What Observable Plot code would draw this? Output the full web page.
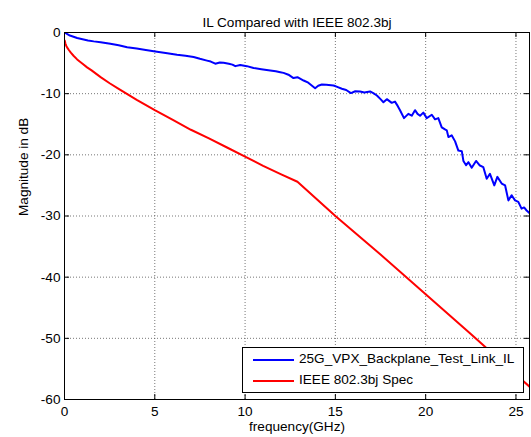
<!DOCTYPE html>
<html>
<head>
<meta charset="utf-8">
<script src="https://cdn.jsdelivr.net/npm/d3@7"></script>
<script src="https://cdn.jsdelivr.net/npm/@observablehq/plot@0.6"></script>
<style>
  body { margin: 0; background: #fff; }
  #wrap { position: relative; width: 531px; height: 437px; font-family: "Liberation Sans", Arial, sans-serif; }
  #legend { position: absolute; left: 242px; top: 347px; width: 282px; height: 46px; background: #fff; border: 1px solid #000; box-sizing: border-box; }
  .row { position: absolute; left: 0; height: 16px; }
  .swatch { position: absolute; left: 10px; width: 41px; height: 2px; }
  .lbl { position: absolute; left: 56px; top: -8px; font-size: 13.6px; white-space: nowrap; line-height: 16px; color: #000; }
</style>
</head>
<body>
<div id="wrap"></div>
<script>
const titleText = "IL Compared with IEEE 802.3bj";
const xLabel = "frequency(GHz)";
const yLabel = "Magnitude in dB";
const seriesNames = ["25G_VPX_Backplane_Test_Link_IL", "IEEE 802.3bj Spec"];
const seriesColors = ["#0000ff", "#ff0000"];
const xTicks = [0, 5, 10, 15, 20, 25];
const yTicks = [0, -10, -20, -30, -40, -50, -60];

const blueFreq = [0.0,0.3,0.7,1.0,1.3,1.62,2.0,2.54,3.0,3.47,4.0,4.5,5.03,5.6,6.23,6.7,7.15,7.5,7.89,8.1,8.35,8.6,8.81,9.1,9.3,9.46,9.73,10.1,10.47,10.9,11.39,11.7,11.95,12.13,12.4,12.68,12.9,13.24,13.5,13.88,14.05,14.25,14.5,14.9,15.1,15.36,15.6,15.86,16.1,16.37,16.6,16.92,17.1,17.3,17.5,17.66,17.85,18.12,18.3,18.45,18.58,18.8,19.04,19.23,19.41,19.55,19.69,19.87,20.06,20.34,20.52,20.7,20.89,21.07,21.17,21.26,21.44,21.63,21.81,22.0,22.09,22.24,22.37,22.55,22.79,22.98,23.19,23.38,23.56,23.8,23.97,24.21,24.4,24.58,24.76,24.95,25.13,25.31,25.45,25.59,25.77];
const blueDb = [0.0,-0.5,-0.9,-1.1,-1.3,-1.45,-1.6,-1.85,-2.1,-2.4,-2.6,-2.85,-3.1,-3.35,-3.65,-3.8,-4.0,-4.3,-4.6,-4.75,-5.1,-4.9,-4.95,-5.1,-5.25,-5.5,-5.3,-5.5,-5.8,-6.0,-6.2,-6.35,-6.5,-6.6,-6.9,-7.45,-7.3,-7.85,-8.2,-9.1,-8.7,-8.5,-8.55,-8.66,-8.9,-9.2,-9.4,-9.9,-9.6,-9.64,-9.8,-9.64,-9.9,-10.3,-10.9,-11.4,-10.9,-11.5,-11.3,-12.0,-12.7,-14.0,-13.3,-13.6,-12.7,-13.3,-13.6,-13.1,-14.0,-13.45,-14.2,-14.0,-15.5,-15.85,-16.0,-17.1,-16.8,-17.8,-19.3,-19.4,-21.0,-21.7,-21.2,-22.1,-21.0,-21.7,-22.0,-23.9,-23.1,-25.0,-23.6,-24.7,-25.0,-27.45,-26.6,-27.45,-27.7,-28.8,-28.6,-29.1,-29.6];

const redFreq = [0.01,0.05,0.1,0.18,0.25,0.35,0.5,0.7,1,1.25,1.5,2,2.5,3,3.5,4,5,6,7,8,9,10,11,12,12.9,15,17.5,20,22.5,25,25.75];
const redDb = [-1.3,-1.8,-2.2,-2.6,-2.9,-3.3,-3.8,-4.4,-5.1,-5.7,-6.2,-7.3,-8.3,-9.2,-10.1,-11.0,-12.7,-14.3,-15.9,-17.3,-18.8,-20.3,-21.8,-23.2,-24.4,-30.0,-36.3,-42.8,-49.3,-55.9,-57.9];

const blue = blueFreq.map((f, i) => ({f, db: blueDb[i]}));
const red = redFreq.map((f, i) => ({f, db: redDb[i]}));

const W = 531, H = 437, mL = 64, mT = 32, mR = 2, mB = 38;
const fw = W - mL - mR, fh = H - mT - mB;

const chart = Plot.plot({
  width: W, height: H,
  marginLeft: mL, marginTop: mT, marginRight: mR, marginBottom: mB,
  style: {fontFamily: "'Liberation Sans', Arial, sans-serif", fontSize: "13.6px", background: "#fff", color: "#000", overflow: "visible"},
  x: {domain: [0, 25.75]},
  y: {domain: [-60, 0]},
  marks: [
    Plot.gridX(xTicks, {stroke: "#555", strokeOpacity: 0.8, strokeDasharray: "1,2"}),
    Plot.gridY(yTicks, {stroke: "#555", strokeOpacity: 0.8, strokeDasharray: "1,2"}),
    Plot.line(blue, {x: "f", y: "db", stroke: seriesColors[0], strokeWidth: 2, clip: true}),
    Plot.line(red, {x: "f", y: "db", stroke: seriesColors[1], strokeWidth: 2, clip: true}),
    Plot.tickX(xTicks, {x: d => d, insetTop: fh - 5, stroke: "#000"}),
    Plot.tickX(xTicks, {x: d => d, insetBottom: fh - 5, stroke: "#000"}),
    Plot.tickY(yTicks, {y: d => d, insetLeft: fw - 5, stroke: "#000"}),
    Plot.tickY(yTicks, {y: d => d, insetRight: fw - 5, stroke: "#000"}),
    Plot.frame({stroke: "#000", strokeWidth: 1}),
    Plot.axisX(xTicks, {tickSize: 0, tickPadding: 7, label: null, tickFormat: d => String(d)}),
    Plot.axisY(yTicks, {tickSize: 0, tickPadding: 4, label: null, tickFormat: d => String(d)}),
    Plot.text([titleText], {frameAnchor: "top", dy: -15, fontSize: 13.6}),
    Plot.text([xLabel], {frameAnchor: "bottom", dy: 31, fontSize: 13.6}),
    Plot.text([yLabel], {frameAnchor: "left", dx: -41, rotate: -90, fontSize: 13.6})
  ]
});

const wrap = document.getElementById("wrap");
wrap.appendChild(chart);

const legend = document.createElement("div");
legend.id = "legend";
seriesNames.forEach((name, i) => {
  const row = document.createElement("div");
  row.className = "row";
  row.style.top = (i === 0 ? 11 : 32) + "px";
  const sw = document.createElement("div");
  sw.className = "swatch";
  sw.style.background = seriesColors[i];
  const lb = document.createElement("div");
  lb.className = "lbl";
  lb.textContent = name;
  row.appendChild(sw);
  row.appendChild(lb);
  legend.appendChild(row);
});
wrap.appendChild(legend);
</script>
</body>
</html>
